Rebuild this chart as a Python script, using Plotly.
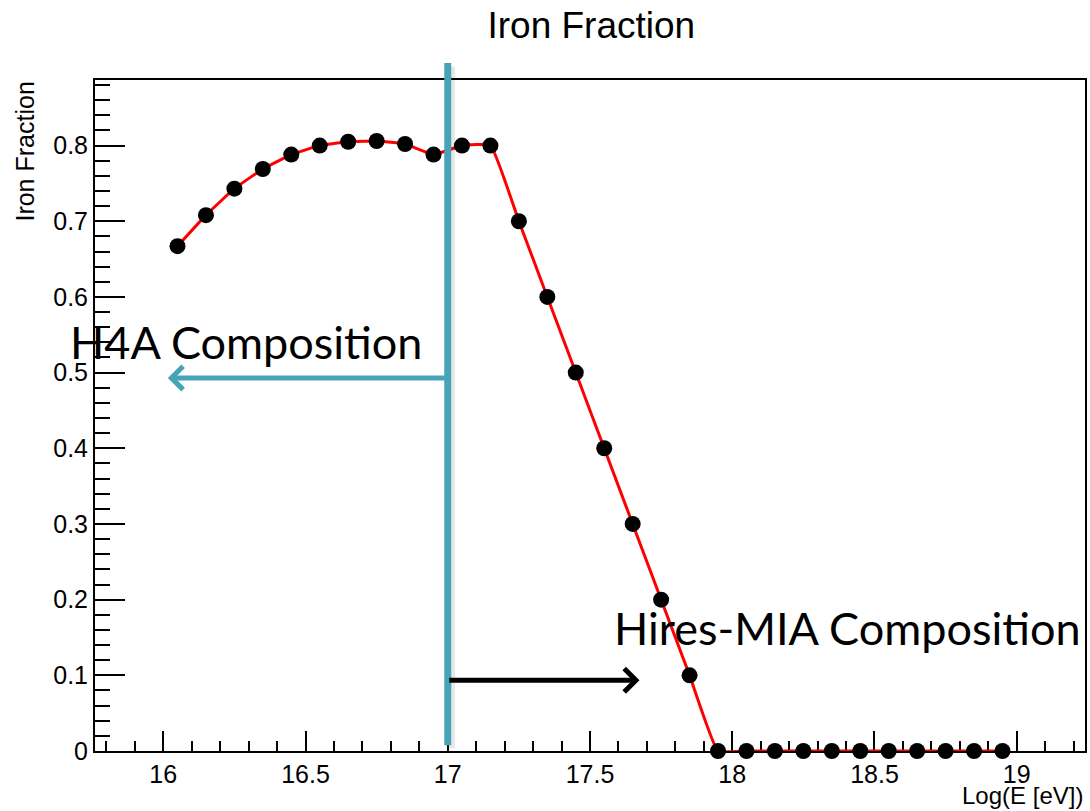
import plotly.graph_objects as go

# Iron fraction per log-energy bin
log_energy = [16.05, 16.15, 16.25, 16.35, 16.45, 16.55, 16.65, 16.75, 16.85, 16.95,
              17.05, 17.15, 17.25, 17.35, 17.45, 17.55, 17.65, 17.75, 17.85, 17.95,
              18.05, 18.15, 18.25, 18.35, 18.45, 18.55, 18.65, 18.75, 18.85, 18.95]
iron_fraction = [0.667, 0.708, 0.743, 0.769, 0.788, 0.800, 0.805, 0.806, 0.802, 0.788,
                 0.800, 0.800, 0.70, 0.60, 0.50, 0.40, 0.30, 0.20, 0.10, 0.0,
                 0.0, 0.0, 0.0, 0.0, 0.0, 0.0, 0.0, 0.0, 0.0, 0.0]

x_ticks = [16, 16.5, 17, 17.5, 18, 18.5, 19]
x_tick_text = ["16", "16.5", "17", "17.5", "18", "18.5", "19"]
y_ticks = [0, 0.1, 0.2, 0.3, 0.4, 0.5, 0.6, 0.7, 0.8]
y_tick_text = ["0", "0.1", "0.2", "0.3", "0.4", "0.5", "0.6", "0.7", "0.8"]

# composition model boundary and arrow ends
boundary = 17.0
h4a_arrow_end = (16.016, 0.493)
hires_arrow_end = (17.674, 0.0935)

# ROOT-like auto ranges (10% padding)
x_pad = 0.1 * (max(log_energy) - min(log_energy))
x_range = [min(log_energy) - x_pad, max(log_energy) + x_pad]
y_max = max(iron_fraction)
y_range = [0, y_max + 0.1 * y_max]

CYAN = "#47A3B8"
AXIS_FONT = dict(family="Liberation Sans, Arial, sans-serif", size=25, color="black")
NOTE_FONT_FAMILY = "Lato, sans-serif"

fig = go.Figure()

fig.add_trace(go.Scatter(
    x=log_energy, y=iron_fraction,
    mode="lines+markers",
    line=dict(color="#FF0000", width=3, shape="spline", smoothing=0.35),
    marker=dict(color="black", size=16),
    cliponaxis=False,
    showlegend=False,
))

axis_common = dict(
    showline=True, linecolor="black", linewidth=2, mirror=True,
    ticks="inside", tickcolor="black", tickwidth=2,
    showgrid=False, zeroline=False, tickfont=AXIS_FONT,
    layer="below traces",
)

fig.update_xaxes(
    range=x_range, tickvals=x_ticks, ticktext=x_tick_text, ticklen=20,
    minor=dict(dtick=0.1, tick0=16, ticks="inside", ticklen=10, tickwidth=2, tickcolor="black"),
    **axis_common,
)
fig.update_yaxes(
    range=y_range, tickvals=y_ticks, ticktext=y_tick_text, ticklen=30,
    minor=dict(dtick=0.02, tick0=0, ticks="inside", ticklen=15, tickwidth=2, tickcolor="black"),
    **axis_common,
)

# soft shadow and vertical boundary line
fig.add_shape(type="line", xref="x", yref="paper", x0=boundary + 0.01, x1=boundary + 0.01,
              y0=0.004, y1=1.02, line=dict(color="rgba(0,0,0,0.09)", width=9), layer="above")
fig.add_shape(type="line", xref="x", yref="paper", x0=boundary, x1=boundary,
              y0=0.0085, y1=1.0253, line=dict(color=CYAN, width=7), layer="above")

# arrows pointing to each composition region
fig.add_annotation(x=h4a_arrow_end[0], y=h4a_arrow_end[1], ax=boundary, ay=h4a_arrow_end[1],
                   xref="x", yref="y", axref="x", ayref="y", text="", showarrow=True,
                   arrowhead=4, arrowsize=0.9, arrowwidth=5, arrowcolor=CYAN, standoff=0)
fig.add_annotation(x=hires_arrow_end[0], y=hires_arrow_end[1], ax=boundary, ay=hires_arrow_end[1],
                   xref="x", yref="y", axref="x", ayref="y", text="", showarrow=True,
                   arrowhead=4, arrowsize=0.9, arrowwidth=5, arrowcolor="black", standoff=0)

fig.add_annotation(x=-0.0272, y=0.610, xref="paper", yref="paper", text="H4A Composition",
                   showarrow=False, xanchor="left", yanchor="middle",
                   font=dict(family=NOTE_FONT_FAMILY, size=45, color="black"))
fig.add_annotation(x=17.579, y=0.163, xref="x", yref="y", text="Hires-MIA Composition",
                   showarrow=False, xanchor="left", yanchor="middle",
                   font=dict(family=NOTE_FONT_FAMILY, size=45, color="black"))

# axis titles placed at the axis ends
fig.add_annotation(x=1.0, y=-0.0894, xref="paper", yref="paper", text="Log(E [eV])",
                   showarrow=False, xanchor="right", yanchor="bottom",
                   font=dict(family="Liberation Sans, Arial, sans-serif", size=24, color="black"))
fig.add_annotation(x=-0.055, y=1.0, xref="paper", yref="paper", text="Iron Fraction",
                   showarrow=False, textangle=-90, xanchor="right", yanchor="top", font=AXIS_FONT)

fig.update_layout(
    width=1090, height=811,
    margin=dict(l=95, r=3, t=80, b=60),
    paper_bgcolor="white", plot_bgcolor="white",
    title=dict(text="Iron Fraction", x=0.5425, xanchor="center", y=0.969, yanchor="middle",
               font=dict(family="Liberation Sans, Arial, sans-serif", size=37, color="black")),
)

fig.write_html("out.html")
